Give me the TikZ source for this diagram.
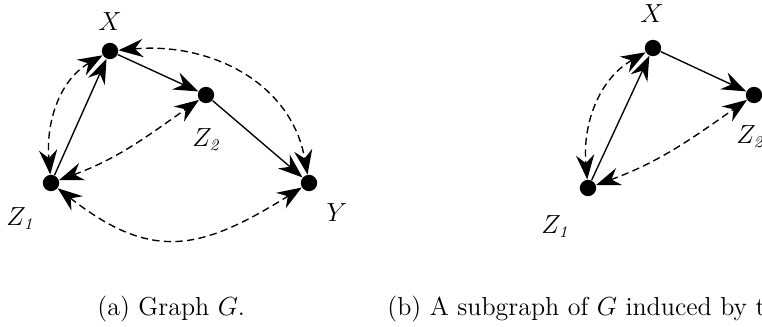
\documentclass[tikz,border=0pt]{standalone}
\usetikzlibrary{arrows.meta}
\begin{document}
\begin{tikzpicture}[x=0.55pt,y=0.55pt,
  dot/.style={circle,fill=black,inner sep=0pt,minimum size=9pt},
  lbl/.style={font=\fontsize{13.5}{15}\selectfont,inner sep=0pt},
  onetip/.style={-{Stealth[length=13.5pt,width=10pt,inset=4.5pt]}},
  twotips/.style={{Stealth[length=13.5pt,width=10pt,inset=4.5pt]}-{Stealth[length=13.5pt,width=10pt,inset=4.5pt]}},
  solidedge/.style={onetip,line width=0.75pt},
  dashedge/.style={twotips,line width=0.75pt,dash pattern=on 4pt off 2.4pt},
  captext/.style={font=\fontsize{14.3}{16}\selectfont,inner sep=0pt,anchor=base west}]
\useasboundingbox (0,0) rectangle (762,327);
\clip (0,0) rectangle (762,327);
% (a)
\node[dot] (X) at (110,276) {};
\node[dot] (Z2) at (206,232) {};
\node[dot] (Z1) at (51,144) {};
\node[dot] (Y) at (309,144) {};
\node[lbl] (lX) at (110,305) {$X$};
\node[lbl] (lZ2) at (207,187) {$Z_{\mathit{2}}$};
\node[lbl] (lZ1) at (21,108) {$Z_{\mathit{1}}$};
\node[lbl] (lY) at (337,114) {$Y$};
\draw[solidedge] (X) -- (Z2);
\draw[solidedge] (Z2) -- (Y);
\draw[solidedge] (Z1) -- (X);
\draw[dashedge] (X) to[out=210,in=95] (Z1);
\draw[dashedge] (Z1) to[out=20,in=215] (Z2);
\draw[dashedge] (X) to[out=5,in=100,looseness=1.05] (Y);
\draw[dashedge] (Z1) to[out=-38,in=212,looseness=1.25] (Y);
% (b)
\node[dot] (bX) at (653,279) {};
\node[dot] (bZ2) at (754,232) {};
\node[dot] (bZ1) at (588,139) {};
\node[lbl] (blX) at (652,313) {$X$};
\node[lbl] (blZ1) at (556,100) {$Z_{\mathit{1}}$};
\node[lbl] (blZ2) at (751,190) {$Z_{\mathit{2}}$};
\draw[solidedge] (bX) -- (bZ2);
\draw[solidedge] (bZ1) -- (bX);
\draw[dashedge] (bX) to[out=210,in=95] (bZ1);
\draw[dashedge] (bZ1) to[out=20,in=215] (bZ2);
% captions
\node[captext] (ca) at (97,11) {(a) Graph $G$.};
\node[captext] (cb) at (387,11) {(b) A subgraph of $G$ induced by t};
\end{tikzpicture}
\end{document}
